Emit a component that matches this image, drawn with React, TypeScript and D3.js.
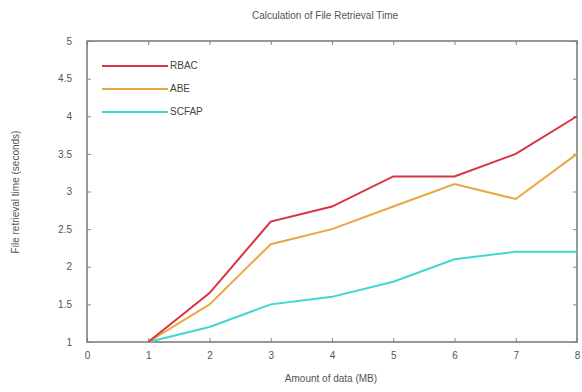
import { useEffect, useRef } from 'react';
import * as d3 from 'd3';

const X_VALUES = [1, 2, 3, 4, 5, 6, 7, 8];
const RBAC = [1, 1.65, 2.6, 2.8, 3.2, 3.2, 3.5, 4.0];
const ABE = [1, 1.5, 2.3, 2.5, 2.8, 3.1, 2.9, 3.5];
const SCFAP = [1, 1.2, 1.5, 1.6, 1.8, 2.1, 2.2, 2.2];
const X_TICKS = [0, 1, 2, 3, 4, 5, 6, 7, 8];
const Y_TICKS = [1, 1.5, 2, 2.5, 3, 3.5, 4, 4.5, 5];

const SERIES = [
  { name: 'RBAC', values: RBAC, color: '#d8343f' },
  { name: 'ABE', values: ABE, color: '#eaa640' },
  { name: 'SCFAP', values: SCFAP, color: '#40d6d6' },
];

export default function App() {
  const svgRef = useRef<SVGSVGElement>(null);

  useEffect(() => {
    const svg = d3.select(svgRef.current);
    svg.selectAll('*').remove();

    const width = 582;
    const height = 392;
    const margin = { top: 41, right: 5, bottom: 50, left: 87 };
    const font = 'Liberation Sans, Arial, sans-serif';
    const gray = '#555';

    const x = d3.scaleLinear().domain([0, 8]).range([margin.left, width - margin.right]);
    const y = d3.scaleLinear().domain([1, 5]).range([height - margin.bottom, margin.top]);

    const g = svg.append('g');

    g.append('rect')
      .attr('width', width)
      .attr('height', height)
      .attr('fill', '#fff');

    // inward ticks on all four sides
    const styleAxis = (sel: any) => {
      sel.select('.domain').remove();
      sel.selectAll('line').attr('stroke', '#888');
      sel.selectAll('text').attr('fill', gray).attr('font-size', 10).attr('font-family', font);
    };

    g.append('g')
      .attr('transform', `translate(0,${y(1)})`)
      .call(d3.axisBottom(x).tickValues(X_TICKS).tickFormat(d3.format('d')).tickSizeInner(-4).tickPadding(10))
      .call(styleAxis);
    g.append('g')
      .attr('transform', `translate(0,${y(5)})`)
      .call(d3.axisTop(x).tickValues(X_TICKS).tickFormat(() => '').tickSizeInner(-4))
      .call(styleAxis);
    g.append('g')
      .attr('transform', `translate(${x(0)},0)`)
      .call(d3.axisLeft(y).tickValues(Y_TICKS).tickFormat(d3.format('')).tickSizeInner(-4).tickPadding(15))
      .call(styleAxis);
    g.append('g')
      .attr('transform', `translate(${x(8)},0)`)
      .call(d3.axisRight(y).tickValues(Y_TICKS).tickFormat(() => '').tickSizeInner(-4))
      .call(styleAxis);

    g.append('rect')
      .attr('x', x(0))
      .attr('y', y(5))
      .attr('width', x(8) - x(0))
      .attr('height', y(1) - y(5))
      .attr('fill', 'none')
      .attr('stroke', '#777')
      .attr('stroke-width', 1.5);

    const line = d3
      .line<number>()
      .x((_, i) => x(X_VALUES[i]))
      .y((d) => y(d));

    SERIES.slice().reverse().forEach((s) => {
      g.append('path')
        .datum(s.values)
        .attr('fill', 'none')
        .attr('stroke', s.color)
        .attr('stroke-width', 2)
        .attr('d', line);
    });

    SERIES.forEach((s, i) => {
      const ly = 66 + i * 23;
      g.append('line')
        .attr('x1', 102)
        .attr('x2', 168)
        .attr('y1', ly)
        .attr('y2', ly)
        .attr('stroke', s.color)
        .attr('stroke-width', 2);
      g.append('text')
        .attr('x', 170)
        .attr('y', ly + 3)
        .attr('fill', '#444')
        .attr('font-size', 10)
        .attr('font-family', font)
        .text(s.name);
    });

    g.append('text')
      .attr('x', 325)
      .attr('y', 19)
      .attr('text-anchor', 'middle')
      .attr('fill', gray)
      .attr('font-size', 10)
      .attr('font-family', font)
      .text('Calculation of File Retrieval Time');

    g.append('text')
      .attr('x', 331)
      .attr('y', 382)
      .attr('text-anchor', 'middle')
      .attr('fill', gray)
      .attr('font-size', 10)
      .attr('font-family', font)
      .text('Amount of data (MB)');

    g.append('text')
      .attr('transform', 'rotate(-90)')
      .attr('x', -192)
      .attr('y', 19)
      .attr('text-anchor', 'middle')
      .attr('fill', gray)
      .attr('font-size', 10)
      .attr('font-family', font)
      .text('File retrieval time (seconds)');
  }, []);

  return (
    <div style={{ position: 'absolute', left: 0, top: 0 }}>
      <svg ref={svgRef} width={582} height={392} style={{ display: 'block' }} />
    </div>
  );
}
